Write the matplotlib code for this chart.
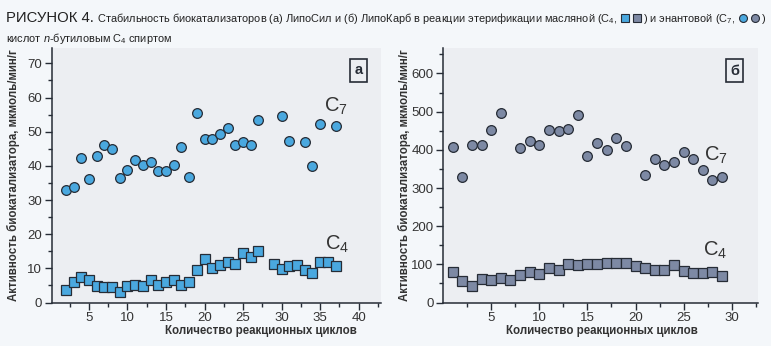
import matplotlib
matplotlib.use('Agg')
import matplotlib.pyplot as plt
from matplotlib.lines import Line2D
from matplotlib.ticker import MultipleLocator

plt.rcParams['font.family'] = ['Liberation Sans', 'DejaVu Sans']
plt.rcParams['mathtext.fontset'] = 'custom'
plt.rcParams['mathtext.rm'] = 'Liberation Sans'
plt.rcParams['mathtext.it'] = 'Liberation Sans:italic'

# --- data (а) ЛипоСил ---
a_c7_x = [2, 3, 4, 5, 6, 7, 8, 9, 10, 11, 12, 13, 14, 15, 16, 17, 18, 19, 20, 21,
          22, 23, 24, 25, 26, 27, 30, 31, 33, 34, 35, 37]
a_c7_y = [33.0, 33.7, 42.3, 36.1, 42.9, 46.1, 44.8, 36.3, 38.9, 41.6, 40.3, 41.0,
          38.5, 38.5, 40.2, 45.5, 36.7, 55.6, 47.8, 47.8, 49.2, 51.2, 46.2, 46.9,
          46.2, 53.4, 54.7, 47.4, 46.9, 39.9, 52.1, 51.8]
a_c4_x = [2, 3, 4, 5, 6, 7, 8, 9, 10, 11, 12, 13, 14, 15, 16, 17, 18, 19, 20, 21,
          22, 23, 24, 25, 26, 27, 29, 30, 31, 32, 33, 34, 35, 36, 37]
a_c4_y = [3.6, 5.9, 7.4, 6.7, 4.9, 4.4, 4.4, 3.2, 4.8, 5.2, 4.9, 6.7, 5.2, 6.1,
          6.7, 5.2, 6.1, 9.6, 12.8, 10.2, 11.1, 12.0, 11.4, 14.5, 13.4, 15.2,
          11.4, 9.9, 10.7, 11.1, 9.6, 8.5, 12.0, 12.0, 10.7]

# --- data (б) ЛипоКарб ---
b_c7_x = [1, 2, 3, 4, 5, 6, 8, 9, 10, 11, 12, 13, 14, 15, 16, 17, 18, 19,
          21, 22, 23, 24, 25, 26, 27, 28, 29]
b_c7_y = [408, 330, 412, 412, 451, 497, 404, 423, 412, 453, 449, 455, 491,
          383, 417, 400, 431, 410, 335, 377, 359, 369, 395, 376, 348, 321, 330]
b_c4_x = list(range(1, 30))
b_c4_y = [80, 57, 44, 61, 58, 64, 58, 72, 80, 74, 90, 86, 100, 98, 100, 100,
          103, 103, 103, 96, 90, 86, 86, 98, 82, 77, 77, 80, 70]

XLABEL = 'Количество реакционных циклов'
YLABEL = 'Активность биокатализатора, мкмоль/мин/г'

DARK = '#262c36'
BLUE = '#4aa8df'
GRAY = '#7d89a4'

fig = plt.figure(figsize=(7.71, 3.46), dpi=100, facecolor='#f4f7fa')


def panel(rect, c7x, c7y, c4x, c4y, color, xlim, ylim, ymaj, ymin, letter,
          c7pos, c4pos, letter_pos, ylab_x, xlab_x):
    ax = fig.add_axes(rect)
    ax.set_facecolor('#eceef2')
    ax.plot(c7x, c7y, 'o', ms=7, mfc=color, mec=DARK, mew=0.9, ls='none', clip_on=False)
    ax.plot(c4x, c4y, 's', ms=6.6, mfc=color, mec=DARK, mew=0.9, ls='none', clip_on=False)
    ax.set_xlim(*xlim)
    ax.set_ylim(*ylim)
    ax.xaxis.set_major_locator(MultipleLocator(5))
    ax.xaxis.set_minor_locator(MultipleLocator(2.5))
    ax.yaxis.set_major_locator(MultipleLocator(ymaj))
    ax.yaxis.set_minor_locator(MultipleLocator(ymin))
    for s in ['top', 'right']:
        ax.spines[s].set_visible(False)
    for s in ['left', 'bottom']:
        ax.spines[s].set_color(DARK)
        ax.spines[s].set_linewidth(1.1)
    ax.tick_params(which='both', direction='out', colors=DARK, labelsize=9.5,
                   labelcolor='#333', pad=2)
    ax.tick_params(which='major', length=5, width=1.0)
    ax.tick_params(which='minor', length=3, width=1.0)
    ax.set_xlabel(XLABEL, fontsize=8.3, fontweight='bold', color='#333')
    ax.set_ylabel(YLABEL, fontsize=8.3, fontweight='bold', color='#333')
    ax.xaxis.set_label_coords(xlab_x, -0.09)
    ax.yaxis.set_label_coords(ylab_x, 0.5)
    ax.text(c7pos[0], c7pos[1], 'C$_7$', fontsize=14.5, color='#333',
            ha='center', va='center')
    ax.text(c4pos[0], c4pos[1], 'C$_4$', fontsize=14.5, color='#333',
            ha='center', va='center')
    ax.text(letter_pos[0], letter_pos[1], letter, transform=ax.transAxes,
            fontsize=10.5, fontweight='bold', color=DARK, ha='center', va='center',
            bbox=dict(boxstyle='square,pad=0.3', fc='none', ec=DARK, lw=1.2))
    return ax


panel([0.0671, 0.1257, 0.4271, 0.7347], a_c7_x, a_c7_y, a_c4_x, a_c4_y, BLUE,
      (0.17, 42.9), (0, 74.4), 10, 5, 'а', (37, 57.5), (37.2, 17),
      (0.931, 0.913), -0.095, 0.636)
panel([0.575, 0.1257, 0.4077, 0.7347], b_c7_x, b_c7_y, b_c4_x, b_c4_y, GRAY,
      (0.02, 32.7), (0, 666), 100, 50, 'б', (28.4, 386), (28.3, 137),
      (0.926, 0.912), -0.104, 0.506)

# --- caption ---
renderer = fig.canvas.get_renderer()
W = fig.bbox.width
made = []


def put(x, y, s, size):
    t = fig.text(x, y, s, va='baseline', color='#222', fontsize=size)
    made.append(t)
    bb = t.get_window_extent(renderer)
    return bb.x1 / W


def icon(x, y, marker, color, size):
    w = size * 0.75 / 72 * 100 / W
    ln = Line2D([x + w * 0.75], [y + 0.012], marker=marker, ms=size * 0.72,
                mfc=color, mec=DARK, mew=0.8, ls='none', transform=fig.transFigure)
    fig.add_artist(ln)
    made.append(ln)
    return x + w * 1.5


def caption(size):
    y1, y2 = 0.937, 0.878
    x = put(0.008, y1, 'РИСУНОК 4.', size * 1.35)
    x = put(x, y1, ' Стабильность биокатализаторов (а) ЛипоСил и (б) ЛипоКарб '
            'в реакции этерификации масляной (C$_4$, ', size)
    x = icon(x, y1, 's', BLUE, size)
    x = icon(x, y1, 's', GRAY, size)
    x = put(x, y1, ') и энантовой (C$_7$, ', size)
    x = icon(x, y1, 'o', BLUE, size)
    x = icon(x, y1, 'o', GRAY, size)
    x = put(x, y1, ')', size)
    put(0.008, y2, 'кислот $n$-бутиловым C$_4$ спиртом', size)
    return x


base = 9.0
end = caption(base)
for a in made:
    a.remove()
made.clear()
caption(base * (0.992 - 0.008) / (end - 0.008))

fig.savefig('out.png', dpi=100, facecolor=fig.get_facecolor())
